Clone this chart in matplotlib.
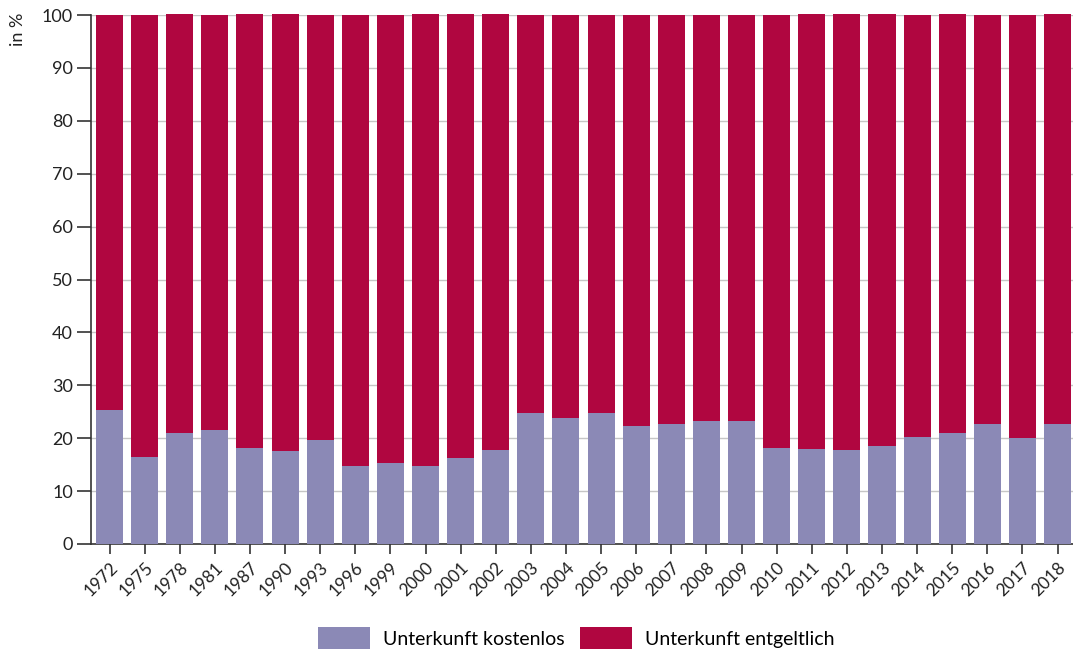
import matplotlib
matplotlib.use("Agg")
import matplotlib.pyplot as plt
from matplotlib.patches import Patch
import numpy as np

plt.rcParams['font.family'] = ['Lato', 'DejaVu Sans']

years = ['1972', '1975', '1978', '1981', '1987', '1990', '1993', '1996', '1999', '2000',
         '2001', '2002', '2003', '2004', '2005', '2006', '2007', '2008', '2009', '2010',
         '2011', '2012', '2013', '2014', '2015', '2016', '2017', '2018']
kostenlos = [25.4, 16.4, 20.9, 21.6, 18.2, 17.5, 19.7, 14.8, 15.4, 14.8,
             16.2, 17.7, 24.8, 23.9, 24.8, 22.4, 22.7, 23.3, 23.3, 18.2,
             18.0, 17.7, 18.6, 20.3, 20.9, 22.6, 20.1, 22.6]
totals = [100.0, 100.0, 100.2, 100.0, 100.2, 100.2, 100.0, 100.0, 100.0, 100.2,
          100.2, 100.2, 100.0, 100.0, 100.0, 100.0, 100.0, 100.0, 100.0, 100.0,
          100.2, 100.2, 100.2, 100.0, 100.2, 100.0, 100.0, 100.2]
entgeltlich = [t - k for t, k in zip(totals, kostenlos)]

c_free = '#8b89b6'
c_paid = '#b00640'

fig = plt.figure(figsize=(10.73, 6.55), dpi=100)
ax = fig.add_axes([91/1073, 111/655, 1 - 91/1073, (544-15)/655])

x = np.arange(len(years))
w = 0.77
ax.bar(x, kostenlos, w, color=c_free, zorder=3, clip_on=False)
ax.bar(x, entgeltlich, w, bottom=kostenlos, color=c_paid, zorder=3, clip_on=False)

ax.set_ylim(0, 100)
ax.set_xlim(-0.527, 27.44)
ax.set_yticks(range(0, 101, 10))
ax.set_xticks(x)
ax.set_xticklabels(years, rotation=45, ha='right', rotation_mode='anchor', fontsize=12.5, color='#222222')
ax.tick_params(axis='y', labelsize=13, length=10, width=1.2, color='#333333', labelcolor='#222222', pad=3)
ax.tick_params(axis='x', length=7, width=1.2, color='#333333', pad=4)
ax.yaxis.grid(True, color='#c6c6c6', linewidth=1, zorder=0)
ax.set_axisbelow(True)
for s in ['top', 'right']:
    ax.spines[s].set_visible(False)
for s in ['left', 'bottom']:
    ax.spines[s].set_color('#333333')
    ax.spines[s].set_linewidth(1.2)

fig.text(18/1073, 1 - 29/655, 'in %', rotation=90, ha='center', va='center', fontsize=13, color='#222222')

handles = [Patch(facecolor=c_free, label='Unterkunft kostenlos'),
           Patch(facecolor=c_paid, label='Unterkunft entgeltlich')]
fig.legend(handles=handles, loc='center', bbox_to_anchor=(576/1073, 17/655), ncol=2, frameon=False,
           fontsize=14, handlelength=2.7, handleheight=1.3, handletextpad=0.65, columnspacing=0.8)

fig.savefig('out.png', dpi=100)
